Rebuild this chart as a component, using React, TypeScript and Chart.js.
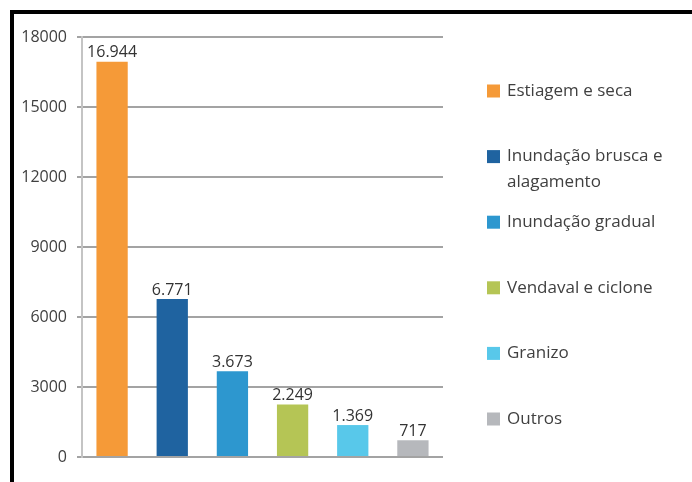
import React, { useEffect, useRef } from "react";
import { Chart, registerables } from "chart.js";

Chart.register(...registerables);

const categories = [
  "Estiagem e seca",
  "Inundação brusca e alagamento",
  "Inundação gradual",
  "Vendaval e ciclone",
  "Granizo",
  "Outros",
];
const values = [16944, 6771, 3673, 2249, 1369, 717];
const colors = ["#F59A38", "#1F63A0", "#2D97CF", "#B5C555", "#58C8EA", "#B6B8BC"];
const yMin = 0;
const yMax = 18000;
const yStep = 3000;

const FONT = "'Open Sans', 'DejaVu Sans', sans-serif";

function fmt(v: number): string {
  const s = String(Math.round(v));
  return s.replace(/\B(?=(\d{3})+(?!\d))/g, ".");
}

const valueLabels = {
  id: "valueLabels",
  afterDatasetsDraw(chart: any) {
    const ctx = chart.ctx;
    const meta = chart.getDatasetMeta(0);
    ctx.save();
    ctx.font = `16px ${FONT}`;
    ctx.fillStyle = "#333333";
    ctx.textAlign = "center";
    ctx.textBaseline = "bottom";
    meta.data.forEach((bar: any, i: number) => {
      const v = chart.data.datasets[0].data[i];
      ctx.fillText(fmt(v), bar.x, bar.y - 1);
    });
    ctx.restore();
  },
};

const sideLegend = {
  id: "sideLegend",
  afterDraw(chart: any) {
    const ctx = chart.ctx;
    const area = chart.chartArea;
    const labels: string[] = chart.data.labels;
    const bg: string[] = chart.data.datasets[0].backgroundColor;
    const boxX = area.right + 44;
    const textX = boxX + 20;
    const maxW = 175;
    const startY = area.top + 54;
    const step = 65.6;
    const lineH = 26;
    ctx.save();
    ctx.font = `17px ${FONT}`;
    ctx.textBaseline = "middle";
    ctx.textAlign = "left";
    labels.forEach((lab, i) => {
      const cy = startY + i * step;
      ctx.fillStyle = bg[i];
      ctx.fillRect(boxX, cy - 6.5, 13, 13);
      const words = lab.split(" ");
      const lines: string[] = [];
      let cur = "";
      words.forEach((w) => {
        const t = cur ? cur + " " + w : w;
        if (ctx.measureText(t).width > maxW && cur) {
          lines.push(cur);
          cur = w;
        } else cur = t;
      });
      if (cur) lines.push(cur);
      ctx.fillStyle = "#404040";
      lines.forEach((ln, j) => ctx.fillText(ln, textX, cy + j * lineH));
    });
    ctx.restore();
  },
};

export default function App() {
  const ref = useRef<HTMLCanvasElement | null>(null);
  useEffect(() => {
    document.body.style.margin = "0";
    const chart = new Chart(ref.current as HTMLCanvasElement, {
      type: "bar",
      data: {
        labels: categories,
        datasets: [
          {
            data: values,
            backgroundColor: colors,
            barPercentage: 0.52,
            categoryPercentage: 1,
          },
        ],
      },
      options: {
        responsive: false,
        animation: false,
        layout: { padding: { left: 0, top: 37, right: 249, bottom: 25 } },
        plugins: { legend: { display: false }, tooltip: { enabled: false } },
        scales: {
          x: { display: false },
          y: {
            min: yMin,
            max: yMax,
            afterFit(scale: any) {
              scale.width = 82;
            },
            border: { display: true, color: "#c4c4c4", width: 2 },
            grid: {
              color: "#a3a3a3",
              lineWidth: 2,
              drawTicks: true,
              tickLength: 5,
              tickColor: "#a3a3a3",
            },
            ticks: {
              stepSize: yStep,
              padding: 10,
              color: "#404040",
              font: { family: FONT, size: 16 },
              callback: (v: any) => String(v),
            },
          },
        },
      },
      plugins: [valueLabels, sideLegend],
    });
    return () => chart.destroy();
  }, []);
  return (
    <div style={{ position: "relative", width: 692, height: 482, background: "#fff" }}>
      <canvas ref={ref} width={692} height={482} style={{ position: "absolute", left: 0, top: 0 }} />
      <div
        style={{
          position: "absolute",
          left: 10,
          top: 10,
          width: 682,
          height: 472,
          borderTop: "4px solid #000",
          borderLeft: "4px solid #000",
          boxSizing: "border-box",
          pointerEvents: "none",
        }}
      />
    </div>
  );
}
